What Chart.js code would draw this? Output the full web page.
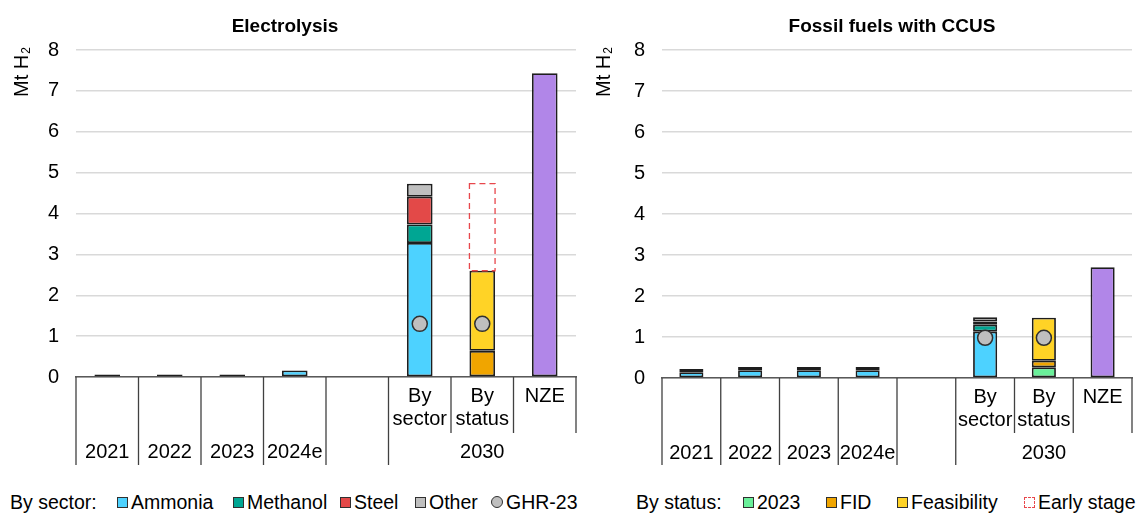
<!DOCTYPE html>
<html>
<head>
<meta charset="utf-8">
<script src="https://cdn.jsdelivr.net/npm/chart.js@4.4.1/dist/chart.umd.min.js"></script>
<style>
body{margin:0;background:#fff;width:1141px;height:513px;overflow:hidden;position:relative;font-family:"Liberation Sans",Arial,sans-serif;}
.box{position:absolute;top:0;height:470px;}
.leg{position:absolute;top:492px;font-size:19.5px;line-height:20px;color:#000;white-space:nowrap;}
.sw{display:inline-block;width:9px;height:9px;border:1px solid #303030;margin-right:3px;vertical-align:1px;}
.dot{border-radius:50%;width:10px;height:10px;}
.dash{border:1px dashed #e8474c;}
</style>
</head>
<body>
<div class="box" style="left:0;width:585px;"><canvas id="elec"></canvas></div>
<div class="box" style="left:586px;width:555px;"><canvas id="ccus"></canvas></div>

<span class="leg" style="left:10px">By sector:</span>
<span class="leg" style="left:117px"><span class="sw" style="background:#4dd2ff"></span>Ammonia</span>
<span class="leg" style="left:233px"><span class="sw" style="background:#00a693"></span>Methanol</span>
<span class="leg" style="left:340px"><span class="sw" style="background:#e34948"></span>Steel</span>
<span class="leg" style="left:415px"><span class="sw" style="background:#bfbfbf"></span>Other</span>
<span class="leg" style="left:491px"><span class="sw dot" style="background:#bfbfbf"></span>GHR-23</span>

<span class="leg" style="left:636px">By status:</span>
<span class="leg" style="left:743px"><span class="sw" style="background:#6af09a"></span>2023</span>
<span class="leg" style="left:826px"><span class="sw" style="background:#f0a500"></span>FID</span>
<span class="leg" style="left:897px"><span class="sw" style="background:#ffd326"></span>Feasibility</span>
<span class="leg" style="left:1024px"><span class="sw dash"></span>Early stage</span>

<script>
// categories and labels
const categories = ['2021', '2022', '2023', '2024e', '', 'By sector', 'By status', 'NZE'];
const topRow = [[], [], [], [], [], ['By', 'sector'], ['By', 'status'], ['NZE']];
const years = ['2021', '2022', '2023', '2024e'];
const groupLabel = '2030';
const yMax = 8;

// Electrolysis (Mt H2)
const elAmmonia  = [0.06, 0.06, 0.06, 0.16, null, 3.28, null, null];
const elMethanol = [null, null, null, null, null, 0.45, null, null];
const elSteel    = [null, null, null, null, null, 0.68, null, null];
const elOther    = [null, null, null, null, null, 0.32, null, null];
const el2023     = [null, null, null, null, null, null, null, null];
const elFID      = [null, null, null, null, null, null, 0.64, null];
const elFeas     = [null, null, null, null, null, null, 1.96, null];
const elEarly    = [null, null, null, null, null, null, 2.13, null];
const elNZE      = [null, null, null, null, null, null, null, 7.43];
const elGHR      = [null, null, null, null, null, 1.3, 1.3, null];

// Fossil fuels with CCUS (Mt H2)
const ccAmmonia  = [0.14, 0.19, 0.19, 0.19, null, 1.13, null, null];
const ccMethanol = [null, null, null, null, null, 0.17, null, null];
const ccSteel    = [0.08, 0.08, 0.08, 0.08, null, 0.08, null, null];
const ccOther    = [null, null, null, null, null, 0.10, null, null];
const cc2023     = [null, null, null, null, null, null, 0.26, null];
const ccFID      = [null, null, null, null, null, null, 0.16, null];
const ccFeas     = [null, null, null, null, null, null, 1.05, null];
const ccEarly    = [null, null, null, null, null, null, null, null];
const ccNZE      = [null, null, null, null, null, null, null, 2.7];
const ccGHR      = [null, null, null, null, null, 0.98, 0.98, null];

Chart.defaults.font.family = '"Liberation Sans", Arial, sans-serif';
Chart.defaults.color = '#000';

const FONT = '"Liberation Sans", Arial, sans-serif';

// separators, category rows, titles and dashed "early stage" boxes
const decor = {
  id: 'decor',
  afterDatasetsDraw(chart) {
    const ctx = chart.ctx;
    chart.data.datasets.forEach(function (ds, i) {
      if (!ds.dashed) return;
      chart.getDatasetMeta(i).data.forEach(function (bar, j) {
        if (!ds.data[j]) return;
        const p = bar.getProps(['x', 'y', 'base', 'width'], true);
        ctx.save();
        ctx.strokeStyle = '#e8474c';
        ctx.lineWidth = 1.3;
        ctx.setLineDash([6, 4]);
        ctx.strokeRect(p.x - p.width / 2, p.y, p.width, p.base - p.y);
        ctx.restore();
      });
    });
  },
  afterDraw(chart) {
    const ctx = chart.ctx;
    const o = chart.options.plugins.decor;
    const xs = chart.scales.x;
    const bottom = chart.chartArea.bottom;
    const w = xs.getPixelForValue(1) - xs.getPixelForValue(0);
    const edge = function (i) { return xs.getPixelForValue(0) - w / 2 + i * w; };

    ctx.save();
    ctx.strokeStyle = '#404040';
    ctx.lineWidth = 1.3;
    for (let i = 0; i <= categories.length; i++) {
      const full = i <= 5;
      ctx.beginPath();
      ctx.moveTo(edge(i), bottom);
      ctx.lineTo(edge(i), full ? 465 : 433);
      ctx.stroke();
    }

    ctx.fillStyle = '#000';
    ctx.font = '20px ' + FONT;
    ctx.textAlign = 'center';
    ctx.textBaseline = 'middle';
    topRow.forEach(function (lines, i) {
      lines.forEach(function (t, k) {
        ctx.fillText(t, xs.getPixelForValue(i), bottom + 19 + k * 23);
      });
    });
    years.forEach(function (t, i) {
      ctx.fillText(t, xs.getPixelForValue(i), bottom + 75);
    });
    ctx.fillText(groupLabel, (edge(5) + edge(8)) / 2, bottom + 75);

    // title
    ctx.font = 'bold 19px ' + FONT;
    ctx.fillText(o.title, o.titleX, 27);

    // y axis title, rotated
    ctx.translate(o.yTitleX, 97);
    ctx.rotate(-Math.PI / 2);
    ctx.textAlign = 'left';
    ctx.textBaseline = 'middle';
    ctx.font = '20px ' + FONT;
    ctx.fillText('Mt H', 0, 0);
    const mw = ctx.measureText('Mt H').width;
    ctx.font = '12px ' + FONT;
    ctx.fillText('2', mw + 1, 5);
    ctx.restore();
  }
};

function barSet(label, data, color) {
  return {
    type: 'bar', label: label, data: data,
    backgroundColor: color, borderColor: '#1e1e1e', borderWidth: 1.8,
    borderSkipped: false, barPercentage: 0.41, categoryPercentage: 1, stack: 's'
  };
}

function makeChart(id, title, titleX, yTitleX, axisY, padRight, d) {
  const early = barSet('Early stage', d.early, 'rgba(0,0,0,0)');
  early.borderWidth = 0;
  early.dashed = true;
  return new Chart(document.getElementById(id), {
    type: 'bar',
    data: {
      labels: categories,
      datasets: [
        barSet('Ammonia', d.ammonia, '#4dd2ff'),
        barSet('Methanol', d.methanol, '#00a693'),
        barSet('Steel', d.steel, '#e34948'),
        barSet('Other', d.other, '#bfbfbf'),
        barSet('2023', d.y2023, '#6af09a'),
        barSet('FID', d.fid, '#f0a500'),
        barSet('Feasibility', d.feas, '#ffd326'),
        early,
        barSet('NZE', d.nze, '#b186e8'),
        {
          type: 'line', label: 'GHR-23', data: d.ghr, showLine: false, stack: 'g', order: -1,
          pointRadius: 7.5, pointHoverRadius: 7.5, pointBackgroundColor: '#bfbfbf',
          pointBorderColor: '#303030', pointBorderWidth: 1.5
        }
      ]
    },
    options: {
      responsive: true,
      maintainAspectRatio: false,
      animation: false,
      events: [],
      layout: { padding: { top: 50, right: padRight, left: 0, bottom: 0 } },
      plugins: {
        legend: { display: false },
        tooltip: { enabled: false },
        decor: { title: title, titleX: titleX, yTitleX: yTitleX }
      },
      scales: {
        x: {
          stacked: true,
          ticks: { display: false },
          grid: { display: false },
          border: { display: true, color: '#595959', width: 1.5 },
          afterFit: function (s) { s.height = 470 - axisY; }
        },
        y: {
          stacked: true,
          min: 0, max: yMax,
          ticks: { stepSize: 1, padding: 17, font: { size: 20 }, color: '#000' },
          grid: { color: '#d9d9d9', lineWidth: 1.5, drawTicks: false },
          border: { display: false },
          afterFit: function (s) { s.width = 76; }
        }
      }
    },
    plugins: [decor]
  });
}

makeChart('elec', 'Electrolysis', 285, 22, 377, 7, {
  ammonia: elAmmonia, methanol: elMethanol, steel: elSteel, other: elOther,
  y2023: el2023, fid: elFID, feas: elFeas, early: elEarly, nze: elNZE, ghr: elGHR
});
makeChart('ccus', 'Fossil fuels with CCUS', 892 - 586, 18, 378, 0, {
  ammonia: ccAmmonia, methanol: ccMethanol, steel: ccSteel, other: ccOther,
  y2023: cc2023, fid: ccFID, feas: ccFeas, early: ccEarly, nze: ccNZE, ghr: ccGHR
});
</script>
</body>
</html>
